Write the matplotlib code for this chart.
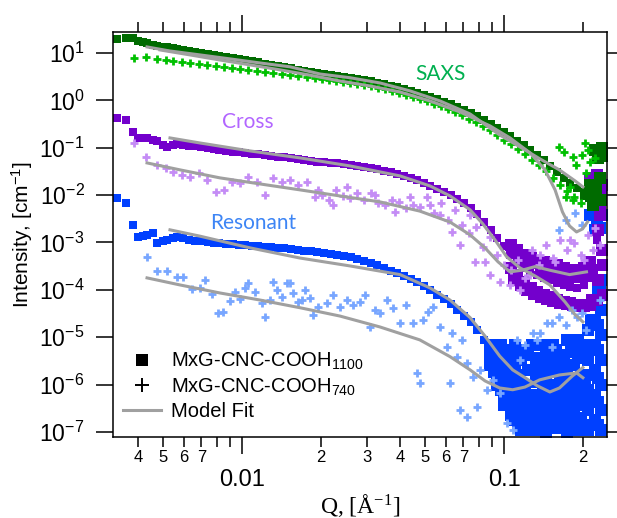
import matplotlib
matplotlib.use('Agg')
import matplotlib.pyplot as plt
from matplotlib.ticker import FixedLocator, FixedFormatter, NullLocator
from matplotlib.lines import Line2D

plt.rcParams['font.family'] = ['Liberation Sans', 'DejaVu Sans']
plt.rcParams['mathtext.fontset'] = 'custom'
plt.rcParams['mathtext.rm'] = 'Liberation Sans'
plt.rcParams['mathtext.it'] = 'Liberation Sans:italic'
plt.rcParams['mathtext.bf'] = 'Liberation Sans:bold'
plt.rcParams['mathtext.default'] = 'regular'

# Q grid of the 1100 sample (square markers), shared by SAXS / Cross / Resonant
q_sq = [0.00333, 0.00361, 0.00384, 0.00401, 0.00419, 0.00434, 0.00457, 0.00474, 0.00500, 0.00518,
        0.00545, 0.00565, 0.00596, 0.0063, 0.0066, 0.0070, 0.0074, 0.0078, 0.0082, 0.0087,
        0.0092, 0.0097, 0.0103, 0.0109, 0.0115, 0.0122, 0.0129, 0.0137, 0.0145, 0.0154,
        0.0163, 0.0173, 0.0183, 0.0194, 0.0206, 0.0218, 0.0231, 0.0245, 0.0260, 0.0275,
        0.0292, 0.0310, 0.0328, 0.0348, 0.0369, 0.0391, 0.0415, 0.0440, 0.0466, 0.0494,
        0.0524, 0.0556, 0.0589, 0.0625, 0.0662, 0.0702, 0.0745, 0.0790, 0.0837, 0.0888,
        0.0941, 0.0998, 0.1058, 0.1122, 0.1190, 0.1261, 0.1337, 0.1418, 0.1503, 0.1594,
        0.1690, 0.1792, 0.1900, 0.2014, 0.2136, 0.2265, 0.2360]

saxs_sq = [19.7, 20.7, 20.7, 17.9, 17.1, 16.3, 14.8, 14.1, 13.4, 13.4,
           12.7, 12.1, 11.6, 11.0, 10.5, 10.0, 9.5, 9.1, 8.6, 8.2,
           7.9, 7.5, 7.1, 6.8, 6.5, 5.9, 5.6, 5.3, 5.1, 4.8,
           4.4, 4.2, 4.0, 3.8, 3.6, 3.4, 3.3, 3.1, 3.0, 2.8,
           2.7, 2.6, 2.3, 2.2, 2.0, 1.9, 1.74, 1.58, 1.43, 1.30,
           1.18, 1.07, 0.925, 0.84, 0.73, 0.63, 0.54, 0.47, 0.385, 0.318,
           0.262, 0.215, 0.177, 0.139, 0.115, 0.090, 0.0705, 0.0553, 0.0413, 0.0308,
           0.0231, 0.0181, 0.0142, 0.0117, 0.0096, 0.0083, 0.0079]

cross_sq = [0.426, 0.386, 0.215, 0.161, 0.161, 0.161, 0.146, 0.139, 0.115, 0.104,
            0.115, 0.120, 0.115, 0.109, 0.109, 0.104, 0.099, 0.094, 0.090, 0.0856,
            0.0815, 0.0815, 0.0776, 0.0739, 0.0739, 0.0705, 0.0671, 0.0640, 0.0640, 0.0610,
            0.0581, 0.0553, 0.0527, 0.0502, 0.0502, 0.0478, 0.0478, 0.0455, 0.0434, 0.0413,
            0.0394, 0.0375, 0.0357, 0.0324, 0.0308, 0.0280, 0.0254, 0.0231, 0.0209, 0.0181,
            0.0156, 0.0135, 0.0117, 0.0101, 0.0083, 0.0068, 0.0054, 0.0040, 0.0027, 0.00185,
            0.00125, 0.00085, 0.00055, 0.00039, 0.00029, 0.00024, 0.00021, 0.000179, 0.000163, 0.000141,
            0.000127, 0.000116, 0.000110, 0.000127, 0.000264, 0.00113, 0.0079]

res_sq = [8.7e-3, 6.8e-3, 2.35e-3, 1.31e-3, 1.38e-3, 1.45e-3, 1.6e-3, 9.8e-4, 1.08e-3, 1.13e-3,
          1.25e-3, 1.31e-3, 1.25e-3, 1.13e-3, 1.08e-3, 1.08e-3, 1.03e-3, 9.8e-4, 9.8e-4, 9.3e-4,
          9.3e-4, 8.9e-4, 8.9e-4, 8.5e-4, 8.5e-4, 8.1e-4, 8.1e-4, 7.7e-4, 7.7e-4, 7.3e-4,
          7.0e-4, 6.65e-4, 6.65e-4, 6.34e-4, 6.04e-4, 5.74e-4, 5.47e-4, 5.21e-4, 4.97e-4, 4.51e-4,
          4.09e-4, 3.71e-4, 3.37e-4, 2.91e-4, 2.52e-4, 2.29e-4, 1.97e-4, 1.71e-4, 1.48e-4, 1.21e-4,
          1.0e-4, 7.85e-5, 6.46e-5, 5.07e-5, 3.78e-5, 2.83e-5, 2.11e-5, 1.43e-5, 8.8e-6, 5.4e-6,
          3.3e-6, 2.1e-6, 1.4e-6, 9.9e-7, 7.8e-7, 6.7e-7, 6.1e-7, 5.5e-7, 5.3e-7, 5.3e-7,
          5.8e-7, 7.0e-7, 9.9e-7, 1.6e-6, 5.4e-6, 2.3e-5, 1.0e-4]

# scattered high-Q points of the 1100 sample
saxs_sq_hi_q = [0.222, 0.236, 0.228, 0.238, 0.212, 0.225, 0.235, 0.219, 0.232, 0.205, 0.215]
saxs_sq_hi_i = [0.090, 0.099, 0.061, 0.067, 0.0164, 0.0129, 0.0079, 0.0062, 0.0231, 0.0105, 0.0095]

cross_sq_hi_q = [0.1062, 0.1124, 0.1192, 0.1268, 0.1337, 0.1422, 0.1496, 0.1594, 0.1694, 0.1778, 0.1891, 0.2019, 0.2120,
                 0.1062, 0.1124, 0.1192, 0.1268, 0.1337, 0.1422, 0.1496, 0.1594, 0.1694, 0.1778, 0.1891, 0.2019, 0.2120, 0.2256,
                 0.1093, 0.1157, 0.1227, 0.1300, 0.1380, 0.1459, 0.1544, 0.1642, 0.1735, 0.1834, 0.1950, 0.2065, 0.2165,
                 0.1093, 0.1157, 0.1227, 0.1300, 0.1380, 0.1459, 0.1544, 0.1642, 0.1735, 0.1834, 0.1950, 0.2065, 0.2165,
                 0.2276, 0.2366, 0.2317, 0.2387, 0.2256, 0.2346, 0.2387, 0.2276, 0.2387, 0.2206, 0.2120, 0.2317]
cross_sq_hi_i = [8.9e-4, 7.0e-4, 5.5e-4, 4.7e-4, 3.9e-4, 3.9e-4, 3.4e-4, 3.4e-4, 2.9e-4, 2.6e-4, 2.6e-4, 2.9e-4, 3.9e-4,
                 2.9e-4, 2.1e-4, 1.48e-4, 1.1e-4, 9.1e-5, 7.85e-5, 7.1e-5, 6.1e-5, 5.6e-5, 5.3e-5, 4.8e-5, 4.6e-5, 4.8e-5, 6.1e-5,
                 6.3e-4, 5.2e-4, 4.3e-4, 3.7e-4, 3.2e-4, 2.6e-4, 2.4e-4, 2.2e-4, 1.97e-4, 1.88e-4, 1.88e-4, 1.97e-4, 2.6e-4,
                 1.63e-4, 1.27e-4, 1.0e-4, 8.2e-5, 7.1e-5, 6.5e-5, 5.9e-5, 5.3e-5, 5.1e-5, 4.8e-5, 4.6e-5, 4.8e-5, 6.1e-5,
                 1.85e-3, 7.0e-4, 3.8e-3, 1.64e-2, 2.67e-2, 1.01e-2, 3.4e-4, 1.63e-4, 7.85e-5, 1.64e-2, 2.31e-2, 6.2e-3]

res_sq_hi_q = [0.0885, 0.0885, 0.0885,
               0.0940, 0.0940, 0.0940,
               0.1000, 0.1000, 0.1000, 0.1000,
               0.1063, 0.1063, 0.1063, 0.1063,
               0.1131, 0.1131, 0.1131, 0.1131, 0.1131,
               0.1203, 0.1203, 0.1203, 0.1203,
               0.1279, 0.1279, 0.1279, 0.1279, 0.1279,
               0.1360, 0.1360, 0.1360, 0.1360,
               0.1446, 0.1446, 0.1446, 0.1446, 0.1446,
               0.1538, 0.1538, 0.1538, 0.1538, 0.1538,
               0.1636, 0.1636, 0.1636, 0.1636,
               0.1739, 0.1739, 0.1739, 0.1739, 0.1739,
               0.1850, 0.1850, 0.1850, 0.1850, 0.1850,
               0.1967, 0.1967, 0.1967, 0.1967,
               0.2092, 0.2092, 0.2092, 0.2092, 0.2092,
               0.2225, 0.2225, 0.2225, 0.2225, 0.2225, 0.2225,
               0.2346, 0.2346, 0.2346, 0.2346, 0.2346, 0.2346, 0.2346,
               0.0912, 0.0912, 0.0912,
               0.0970, 0.0970, 0.0970,
               0.1031, 0.1031, 0.1031, 0.1031,
               0.1097, 0.1097, 0.1097, 0.1097,
               0.1166, 0.1166, 0.1166, 0.1166,
               0.1240, 0.1240, 0.1240, 0.1240,
               0.1319, 0.1319, 0.1319, 0.1319,
               0.1403, 0.1403, 0.1403, 0.1403, 0.1403,
               0.1492, 0.1492, 0.1492, 0.1492,
               0.1586, 0.1586, 0.1586, 0.1586,
               0.1687, 0.1687, 0.1687, 0.1687,
               0.1794, 0.1794, 0.1794, 0.1794,
               0.1908, 0.1908, 0.1908, 0.1908, 0.1908,
               0.2029, 0.2029, 0.2029, 0.2029,
               0.2157, 0.2157, 0.2157, 0.2157, 0.2157,
               0.2285, 0.2285, 0.2285, 0.2285, 0.2285, 0.2285,
               0.212, 0.2256, 0.2366, 0.2225, 0.2317]
res_sq_hi_i = [6.9e-6, 4.3e-6, 2.6e-6,
               5.4e-6, 1.6e-6, 9.9e-7,
               4.3e-6, 1.26e-6, 6.1e-7, 3.7e-7,
               3.3e-6, 7.8e-7, 3.7e-7, 2.3e-7,
               5.4e-6, 1.6e-6, 4.8e-7, 2.3e-7, 1.4e-7,
               4.3e-6, 9.9e-7, 2.9e-7, 1.4e-7,
               6.9e-6, 2.05e-6, 6.1e-7, 2.3e-7, 1.1e-7,
               3.3e-6, 1.26e-6, 3.7e-7, 1.4e-7,
               5.4e-6, 1.6e-6, 6.1e-7, 1.8e-7, 1.0e-7,
               6.9e-6, 2.6e-6, 7.8e-7, 2.9e-7, 1.23e-7,
               4.3e-6, 1.26e-6, 3.7e-7, 1.4e-7,
               8.8e-6, 2.05e-6, 6.1e-7, 2.3e-7, 1.0e-7,
               5.4e-6, 2.6e-6, 9.9e-7, 2.9e-7, 1.23e-7,
               6.9e-6, 1.6e-6, 4.8e-7, 1.8e-7,
               1.43e-5, 3.3e-6, 7.8e-7, 2.9e-7, 1.1e-7,
               6.1e-5, 2.3e-5, 6.9e-6, 2.05e-6, 6.1e-7, 1.8e-7,
               1.63e-4, 3.8e-5, 1.12e-5, 3.3e-6, 9.9e-7, 2.9e-7, 1.1e-7,
               4.9e-6, 3.0e-6, 1.86e-6,
               6.9e-6, 2.6e-6, 7.8e-7,
               5.4e-6, 2.05e-6, 9.9e-7, 4.8e-7,
               6.9e-6, 2.05e-6, 6.1e-7, 1.8e-7,
               3.3e-6, 9.9e-7, 3.7e-7, 1.1e-7,
               5.4e-6, 2.05e-6, 4.8e-7, 2.0e-7,
               3.7e-6, 1.15e-6, 3.7e-7, 1.64e-7,
               6.9e-6, 2.05e-6, 7.0e-7, 2.3e-7, 1.1e-7,
               3.3e-6, 9.9e-7, 3.7e-7, 1.4e-7,
               5.4e-6, 1.86e-6, 5.3e-7, 2.0e-7,
               3.0e-6, 8.5e-7, 2.9e-7, 1.23e-7,
               4.9e-6, 1.4e-6, 4.3e-7, 1.64e-7,
               8.8e-6, 3.7e-6, 6.1e-7, 2.0e-7, 1.1e-7,
               4.3e-6, 9.9e-7, 3.7e-7, 1.23e-7,
               2.3e-5, 6.9e-6, 1.6e-6, 4.8e-7, 1.4e-7,
               1.0e-4, 1.83e-5, 5.4e-6, 1.4e-6, 4.3e-7, 1.4e-7,
               3.8e-3, 2.7e-3, 3.8e-3, 1.85e-3, 2.0e-3]

# Q grid of the 740 sample (plus markers), shared by SAXS / Cross
q_cr = [0.00387, 0.0043, 0.00474, 0.00513, 0.00545, 0.0059, 0.00633, 0.00685, 0.00735, 0.00796,
        0.00854, 0.00916, 0.00983, 0.01054, 0.01141, 0.01224, 0.01313, 0.01421, 0.01525, 0.01636,
        0.01771, 0.0190, 0.0202, 0.0215, 0.0228, 0.0243, 0.0258, 0.0275, 0.0292, 0.0311,
        0.0331, 0.0352, 0.0374, 0.0398, 0.0423, 0.0450, 0.0478, 0.0509, 0.0541, 0.0575,
        0.0612, 0.0650, 0.0692, 0.0736, 0.0782, 0.0832, 0.0885, 0.0940, 0.1000, 0.1063,
        0.1131, 0.1203, 0.1279, 0.1360, 0.1446, 0.1538, 0.1636, 0.1739, 0.1850, 0.1967,
        0.2092, 0.2225]

saxs_cr = [7.9, 8.2, 7.4, 7.1, 6.8, 6.5, 6.2, 5.9, 5.6, 5.3,
           5.0, 4.8, 4.6, 4.4, 4.2, 4.0, 3.8, 3.6, 3.4, 3.3,
           3.1, 3.0, 2.83, 2.69, 2.56, 2.44, 2.33, 2.22, 2.11, 2.01,
           1.83, 1.74, 1.58, 1.43, 1.30, 1.18, 1.07, 0.97, 0.84, 0.76,
           0.66, 0.57, 0.49, 0.405, 0.35, 0.288, 0.238, 0.186, 0.146, 0.120,
           0.094, 0.074, 0.055, 0.0434, 0.0324, 0.0231, 0.0164, 0.0123, 0.0092, 0.0068,
           0.090, 0.061]

cross_cr = [0.126, 0.064, 0.0434, 0.0375, 0.0308, 0.0267, 0.0242, 0.0294, 0.0209, 0.0117,
            0.0129, 0.0190, 0.0181, 0.0242, 0.0190, 0.0101, 0.0231, 0.0190, 0.0209, 0.0164,
            0.0190, 0.0092, 0.0101, 0.0079, 0.0129, 0.0096, 0.0087, 0.0111, 0.0079, 0.0111,
            0.0068, 0.0062, 0.0079, 0.0072, 0.0054, 0.0062, 0.0056, 0.0092, 0.0042, 0.0068,
            0.0030, 0.0049, 0.00235, 0.0016, 0.00213, 0.00081, 0.00131, 0.00055, 0.00034, 0.00026,
            0.00043, 0.00018, 0.0007, 0.00034, 0.00089, 0.00047, 0.00113, 0.0007, 0.00098, 0.00055,
            0.00145, 0.00203]

saxs_cr_hi_q = [0.1628, 0.1701, 0.183, 0.189, 0.198, 0.203, 0.206, 0.212, 0.173, 0.183, 0.178]
saxs_cr_hi_i = [0.104, 0.081, 0.064, 0.043, 0.070, 0.126, 0.029, 0.050, 0.0092, 0.0079, 0.0149]

cross_cr_hi_q = [0.0679, 0.0775, 0.0884, 0.0963, 0.1054, 0.1151, 0.1257, 0.1372, 0.1566, 0.1778,
                 0.2028, 0.2178, 0.2317, 0.0570, 0.0522, 0.0742, 0.0633, 0.0846,
                 0.0195, 0.0223, 0.0252, 0.0322, 0.0382, 0.0438]
cross_cr_hi_i = [8.9e-4, 3.9e-4, 2.1e-4, 1.48e-4, 1.27e-4, 1.0e-4, 2.1e-4, 5.5e-4, 3.9e-4, 1.13e-3,
                 4.3e-4, 7.0e-4, 8.9e-4, 3.8e-3, 6.2e-3, 3.8e-3, 1.68e-3, 3.9e-4,
                 0.0129, 0.0062, 0.0149, 0.0101, 0.0044, 0.0092]

# resonant 740 data (plus markers)
res_cr_q = [0.00434, 0.00474, 0.00518, 0.00565, 0.00596, 0.00644, 0.00691, 0.00722, 0.00768, 0.0081,
            0.00846, 0.0090, 0.0094, 0.00983, 0.01027, 0.01054, 0.01121, 0.01192, 0.01224, 0.01279,
            0.01313, 0.0136, 0.01421, 0.01485, 0.01525, 0.01565, 0.01635, 0.01694, 0.01739, 0.01817,
            0.01866, 0.0195, 0.0211, 0.02226, 0.02366, 0.02517, 0.0265, 0.02817, 0.02948, 0.03077,
            0.03218, 0.03359, 0.03576, 0.03768, 0.04007, 0.04227, 0.0449, 0.04904, 0.05128, 0.05362,
            0.05701, 0.06062, 0.0633, 0.06616, 0.06916, 0.07221, 0.07605, 0.06222, 0.06791, 0.07221,
            0.07873, 0.08591, 0.09627, 0.1024, 0.1079, 0.1118, 0.1203, 0.1285, 0.1367, 0.1453,
            0.1530, 0.1628, 0.1731, 0.1891, 0.1993, 0.04775, 0.04652, 0.1334, 0.1530, 0.1820,
            0.1731, 0.1862, 0.1993, 0.1628, 0.0810, 0.09052, 0.1151, 0.2064, 0.2317]
res_cr_i = [5.0e-4, 2.5e-4, 2.5e-4, 1.88e-4, 1.88e-4, 1.05e-4, 1.1e-4, 1.63e-4, 8.2e-5, 3.3e-5,
            3.4e-5, 5.9e-5, 9.1e-5, 6.5e-5, 1.1e-4, 1.41e-4, 9.1e-5, 5.3e-5, 2.7e-5, 6.1e-5,
            1.48e-4, 1.0e-4, 7.1e-5, 1.41e-4, 1.41e-4, 8.6e-5, 5.6e-5, 6.1e-5, 1.0e-4, 6.8e-5,
            3.0e-5, 4.4e-5, 5.3e-5, 7.85e-5, 4.4e-5, 6.1e-5, 4.8e-5, 5.6e-5, 7.85e-5, 1.65e-5,
            3.8e-5, 3.3e-5, 6.1e-5, 4.2e-5, 2.0e-5, 4.8e-5, 2.0e-5, 2.3e-5, 3.4e-5, 4.4e-5,
            1.65e-5, 6.3e-6, 1.24e-5, 3.9e-6, 8.8e-6, 2.9e-6, 1.46e-6, 1.09e-6, 2.9e-7, 2.1e-7,
            3.4e-7, 7.8e-7, 6.7e-7, 1.56e-7, 1.11e-7, 8.8e-6, 6.9e-6, 1.24e-5, 1.24e-5, 2.0e-5,
            2.0e-5, 2.7e-5, 1.83e-5, 2.7e-5, 3.3e-5, 1.09e-6, 1.77e-6, 8.8e-6, 6.3e-6, 3.8e-5,
            3.0e-3, 4.2e-3, 2.35e-3, 1.85e-3, 2.05e-6, 1.26e-6, 3.3e-6, 1.43e-5, 6.1e-5]

# model fits
fit_saxs_sq_q = [0.00434, 0.00531, 0.00691, 0.0090, 0.01172, 0.01525, 0.01984, 0.02584, 0.0336, 0.0438,
                 0.0570, 0.0742, 0.0963, 0.1151, 0.1372, 0.1628, 0.1866, 0.2000]
fit_saxs_sq_i = [13.4, 11.0, 9.1, 7.5, 6.15, 5.1, 3.6, 3.0, 2.33, 1.58,
                 0.97, 0.516, 0.186, 0.104, 0.058, 0.034, 0.020, 0.0149]
fit_saxs_cr_q = [0.00486, 0.00633, 0.00824, 0.01073, 0.01396, 0.01817, 0.02366, 0.03077, 0.0401, 0.0522,
                 0.0679, 0.0885, 0.1054, 0.1257, 0.1434, 0.1566, 0.1671, 0.1778, 0.1891, 0.1993, 0.2083]
fit_saxs_cr_i = [11.6, 9.1, 7.1, 5.6, 4.4, 3.4, 2.56, 2.01, 1.50, 0.97,
                 0.57, 0.288, 0.161, 0.078, 0.034, 0.0129, 0.00443, 0.00224, 0.00167, 0.00193, 0.00272]
fit_cross_sq_q = [0.00531, 0.00691, 0.01073, 0.01664, 0.02584, 0.0401, 0.0522, 0.0622, 0.0742, 0.0830,
                  0.0924, 0.1024, 0.1151, 0.1313, 0.1496, 0.1709, 0.1866, 0.2000]
fit_cross_sq_i = [0.161, 0.126, 0.0856, 0.061, 0.0413, 0.0254, 0.0156, 0.0096, 0.0049, 0.00247,
                  0.00113, 0.000497, 0.00029, 0.000197, 0.000127, 0.0000558, 0.000030, 0.0000211]
fit_cross_cr_q = [0.00434, 0.0058, 0.00824, 0.01172, 0.01664, 0.02366, 0.0336, 0.0477, 0.0622, 0.0742,
                  0.0846, 0.0949, 0.1054, 0.1171, 0.1313, 0.1496, 0.1778, 0.2064]
fit_cross_cr_i = [0.0478, 0.0341, 0.0231, 0.0172, 0.0129, 0.0096, 0.0072, 0.0046, 0.0027, 0.00145,
                  0.00077, 0.00039, 0.00024, 0.00026, 0.00031, 0.00026, 0.00021, 0.00024]
fit_res_sq_q = [0.00531, 0.00691, 0.01073, 0.01664, 0.02584, 0.0401, 0.0522, 0.0622, 0.0742, 0.0846,
                0.0963, 0.1079, 0.1203, 0.1337, 0.1496, 0.1628, 0.1818, 0.2000]
fit_res_sq_i = [1.85e-3, 1.36e-3, 7.7e-4, 4.7e-4, 3.2e-4, 2.1e-4, 1.1e-4, 6.1e-5, 2.6e-5, 1.06e-5,
                4.0e-6, 2.05e-6, 1.4e-6, 9.5e-7, 7.0e-7, 8.5e-7, 1.5e-6, 2.3e-6]
fit_res_cr_q = [0.00434, 0.0058, 0.00824, 0.01172, 0.01664, 0.02366, 0.0336, 0.0477, 0.0622, 0.0742,
                0.0846, 0.0963, 0.1079, 0.1203, 0.1367, 0.1628, 0.1891, 0.2000]
fit_res_cr_i = [1.79e-4, 1.27e-4, 8.6e-5, 6.1e-5, 4.2e-5, 2.8e-5, 1.65e-5, 8.8e-6, 3.9e-6, 2.05e-6,
                1.2e-6, 8.5e-7, 7.8e-7, 8.9e-7, 1.26e-6, 1.6e-6, 1.77e-6, 1.4e-6]

# colours
c_saxs_sq, c_saxs_cr, c_saxs_txt = '#006b00', '#00c000', '#00b050'
c_cross_sq, c_cross_cr, c_cross_txt = '#7300cc', '#c48cf5', '#b266ff'
c_res_sq, c_res_cr, c_res_txt = '#0040ff', '#78a6ff', '#3d85f5'
c_fit = '#a0a0a0'

fig = plt.figure(figsize=(6.17, 5.18), dpi=100)
ax = fig.add_axes([113/617, 81/518, 494/617, 405/518])
ax.set_xscale('log')
ax.set_yscale('log')

sq_kw = dict(ls='none', marker='s', ms=5.5, mew=0)
cloud_kw = dict(ls='none', marker='s', ms=8.5, mew=0)
cr_kw = dict(ls='none', marker='+', ms=6, mew=2)

# 1100 sample (squares)
ax.plot(q_sq, res_sq, color=c_res_sq, **sq_kw)
ax.plot(res_sq_hi_q, res_sq_hi_i, color=c_res_sq, **cloud_kw)
ax.plot(q_sq, cross_sq, color=c_cross_sq, **sq_kw)
ax.plot(cross_sq_hi_q, cross_sq_hi_i, color=c_cross_sq, **cloud_kw)
ax.plot(q_sq, saxs_sq, color=c_saxs_sq, **sq_kw)
ax.plot(saxs_sq_hi_q, saxs_sq_hi_i, color=c_saxs_sq, **cloud_kw)

# 740 sample (plus)
ax.plot(res_cr_q, res_cr_i, color=c_res_cr, **cr_kw)
ax.plot(q_cr, cross_cr, color=c_cross_cr, **cr_kw)
ax.plot(cross_cr_hi_q, cross_cr_hi_i, color=c_cross_cr, **cr_kw)
ax.plot(q_cr, saxs_cr, color=c_saxs_cr, **cr_kw)
ax.plot(saxs_cr_hi_q, saxs_cr_hi_i, color=c_saxs_cr, **cr_kw)

# model fits
for fq, fi in [(fit_saxs_sq_q, fit_saxs_sq_i), (fit_saxs_cr_q, fit_saxs_cr_i),
               (fit_cross_sq_q, fit_cross_sq_i), (fit_cross_cr_q, fit_cross_cr_i),
               (fit_res_sq_q, fit_res_sq_i), (fit_res_cr_q, fit_res_cr_i)]:
    ax.plot(fq, fi, color=c_fit, lw=2.2, solid_joinstyle='round')

lab_font = ['Lato', 'DejaVu Sans']
ax.text(0.057, 3.6, 'SAXS', color=c_saxs_txt, fontsize=15, family=lab_font, ha='center', va='center')
ax.text(0.0105, 0.35, 'Cross', color=c_cross_txt, fontsize=15, family=lab_font, ha='center', va='center')
ax.text(0.011, 2.6e-3, 'Resonant', color=c_res_txt, fontsize=15, family=lab_font, ha='center', va='center')

ax.set_xlim(0.003218, 0.2472)
ax.set_ylim(7.85e-8, 27.7)

# axis ticks
ax.xaxis.set_major_locator(FixedLocator([0.01, 0.1]))
ax.xaxis.set_major_formatter(FixedFormatter(['0.01', '0.1']))
minor_pos = [0.004, 0.005, 0.006, 0.007, 0.008, 0.009,
             0.02, 0.03, 0.04, 0.05, 0.06, 0.07, 0.08, 0.09, 0.2]
minor_lab = ['4', '5', '6', '7', '', '', '2', '3', '4', '5', '6', '7', '', '', '2']
ax.xaxis.set_minor_locator(FixedLocator(minor_pos))
ax.xaxis.set_minor_formatter(FixedFormatter(minor_lab))

y_pos = [10.0 ** k for k in range(-7, 2)]
ax.yaxis.set_major_locator(FixedLocator(y_pos))
ax.yaxis.set_major_formatter(FixedFormatter(['$10^{%d}$' % k for k in range(-7, 2)]))
ax.yaxis.set_minor_locator(NullLocator())

ax.tick_params(which='both', direction='out', width=1.1, color='black', top=True, right=True)
ax.tick_params(which='major', length=12)
ax.tick_params(axis='x', which='minor', length=7, labelsize=12, pad=2.5)
ax.tick_params(axis='x', which='major', labelsize=17, pad=11)
ax.tick_params(axis='y', which='major', labelsize=16.5, pad=8.5)
for sp in ax.spines.values():
    sp.set_linewidth(1.1)

ax.set_ylabel('Intensity, [cm$^{-1}$]', fontsize=15)
ax.yaxis.set_label_coords(-0.158, 0.5)
ax.set_xlabel('Q, [Å$^{-1}$]', fontsize=17, family='Liberation Serif', math_fontfamily='stix')
ax.xaxis.set_label_coords(0.5, -0.135)

handles = [Line2D([], [], ls='none', marker='s', ms=8, mew=0, color='black'),
           Line2D([], [], ls='none', marker='+', ms=10, mew=1.4, color='black'),
           Line2D([], [], color=c_fit, lw=2.2)]
labels = ['MxG-CNC-COOH$_{1100}$', 'MxG-CNC-COOH$_{740}$', 'Model Fit']
ax.legend(handles, labels, loc='lower left', bbox_to_anchor=(0.02, 0.04), frameon=False,
          fontsize=14.5, handlelength=1.9, handletextpad=0.5, labelspacing=0.2,
          borderpad=0, borderaxespad=0)

plt.savefig('out.png', dpi=100)
